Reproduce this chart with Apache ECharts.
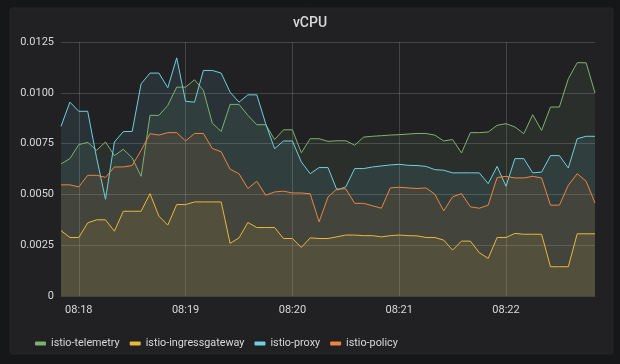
<!DOCTYPE html>
<html>
<head>
<meta charset="utf-8">
<script src="https://cdn.jsdelivr.net/npm/echarts@6/dist/echarts.min.js"></script>
<style>
html,body{margin:0;padding:0;background:#161719;}
#c{width:620px;height:364px;}
</style>
</head>
<body>
<div id="c"></div>
<script>
var times = ['08:17:50','08:17:55','08:18:00','08:18:05','08:18:10','08:18:15','08:18:20','08:18:25','08:18:30','08:18:35','08:18:40','08:18:45','08:18:50','08:18:55',
'08:19:00','08:19:05','08:19:10','08:19:15','08:19:20','08:19:25','08:19:30','08:19:35','08:19:40','08:19:45','08:19:50','08:19:55',
'08:20:00','08:20:05','08:20:10','08:20:15','08:20:20','08:20:25','08:20:30','08:20:35','08:20:40','08:20:45','08:20:50','08:20:55',
'08:21:00','08:21:05','08:21:10','08:21:15','08:21:20','08:21:25','08:21:30','08:21:35','08:21:40','08:21:45','08:21:50','08:21:55',
'08:22:00','08:22:05','08:22:10','08:22:15','08:22:20','08:22:25','08:22:30','08:22:35','08:22:40','08:22:45','08:22:50'];

var xTickLabels = ['08:18','08:19','08:20','08:21','08:22'];
var yTicks = [0, 0.0025, 0.005, 0.0075, 0.01, 0.0125];

var telemetry = [0.0065,0.00676,0.00745,0.00756,0.00717,0.00758,0.00691,0.00722,0.0068,0.00589,
0.00889,0.00889,0.00938,0.01028,0.01028,0.01064,0.01012,0.0085,0.0081,0.00943,
0.00943,0.00889,0.00843,0.00843,0.0077,0.00818,0.00818,0.00705,0.00774,0.00774,
0.00761,0.00764,0.00764,0.00742,0.00782,0.00786,0.00789,0.00792,0.00794,0.00797,
0.008,0.008,0.00792,0.00763,0.0077,0.00704,0.00804,0.00804,0.00807,0.0084,
0.00848,0.00832,0.00799,0.00892,0.00815,0.0093,0.0093,0.01069,0.01148,0.01148,0.00999];

var ingressgateway = [0.00322,0.00288,0.00288,0.0036,0.00375,0.00375,0.00319,0.00417,0.00417,0.00417,
0.00504,0.00393,0.00349,0.0045,0.0045,0.00463,0.00463,0.00463,0.00463,0.00259,
0.00286,0.00362,0.00337,0.00337,0.00337,0.00283,0.00283,0.00239,0.00286,0.00283,
0.00283,0.00291,0.003,0.003,0.00297,0.00297,0.00291,0.00297,0.003,0.00297,
0.00296,0.00288,0.00288,0.00275,0.00226,0.0027,0.0027,0.00213,0.00185,0.00288,
0.00288,0.00308,0.00304,0.00304,0.00304,0.00144,0.00144,0.00144,0.00306,0.00306,0.00306];

var proxy = [0.00835,0.00954,0.00909,0.00909,0.0068,0.00476,0.00758,0.00809,0.0081,0.01044,
0.01097,0.01097,0.01025,0.01172,0.00958,0.00954,0.0111,0.0111,0.01097,0.01003,
0.00954,0.0099,0.0099,0.00848,0.00725,0.00763,0.00763,0.0066,0.00602,0.00632,
0.00632,0.00522,0.00537,0.00627,0.00627,0.00635,0.0064,0.00645,0.00648,0.00643,
0.00642,0.00638,0.00622,0.00619,0.00606,0.00606,0.00606,0.00606,0.00553,0.00638,
0.0054,0.00676,0.00676,0.00606,0.0061,0.00691,0.00691,0.0063,0.00774,0.00786,0.00786];

var policy = [0.00547,0.00547,0.00537,0.00594,0.00594,0.00584,0.00635,0.00635,0.00642,0.00717,
0.00799,0.00792,0.00804,0.00804,0.00763,0.008,0.008,0.00726,0.0071,0.00624,
0.00602,0.00529,0.00565,0.00496,0.00512,0.00516,0.00507,0.00507,0.00503,0.00365,
0.00487,0.00527,0.00527,0.00456,0.00456,0.00444,0.00432,0.00532,0.00535,0.00532,
0.00529,0.00532,0.00501,0.00419,0.00488,0.00504,0.00439,0.00432,0.00447,0.00583,
0.00589,0.00581,0.00581,0.00589,0.00581,0.00447,0.00447,0.00545,0.00602,0.00565,0.00458];

var seriesNames = ['istio-telemetry','istio-ingressgateway','istio-proxy','istio-policy'];
var seriesColors = ['#7eb26d','#eab839','#6ed0e0','#ef843c'];
var seriesData = [telemetry, ingressgateway, proxy, policy];

var textColor = '#d8d9da';
var gridColor = 'rgba(255,255,255,0.16)';

function isMinuteTick(index, value) {
  var v = times[index];
  return v.slice(6) === '00' && xTickLabels.indexOf(v.slice(0,5)) >= 0;
}

var chart = echarts.init(document.getElementById('c'), null, {renderer:'canvas'});
chart.setOption({
  backgroundColor: '#161719',
  animation: false,
  textStyle: {fontFamily: 'Roboto'},
  graphic: [{
    type: 'rect', z: -10, silent: true,
    shape: {x: 10, y: 8, width: 603, height: 346, r: 2},
    style: {fill: '#212124', stroke: '#262629', lineWidth: 1}
  }],
  title: {
    text: 'vCPU', left: 'center', top: 11,
    textStyle: {color: textColor, fontSize: 14, fontWeight: 500, fontFamily: 'Roboto'}
  },
  legend: {
    left: 30, top: 333,
    icon: 'roundRect', itemWidth: 11, itemHeight: 4, itemGap: 10,
    textStyle: {color: textColor, fontSize: 10.8, fontFamily: 'Roboto', padding: [0,0,0,0]},
    data: seriesNames
  },
  grid: {left: 61, right: 25, top: 42, bottom: 68, containLabel: false},
  xAxis: {
    type: 'category', data: times, boundaryGap: false,
    axisLine: {show: false}, axisTick: {show: false},
    axisLabel: {
      interval: isMinuteTick, color: textColor, fontSize: 11, margin: 9,
      formatter: function (v) { return v.slice(0,5); }
    },
    splitLine: {show: true, interval: isMinuteTick, lineStyle: {color: gridColor, width: 1}}
  },
  yAxis: {
    type: 'value', min: yTicks[0], max: yTicks[yTicks.length-1], interval: yTicks[1],
    axisLine: {show: false}, axisTick: {show: false},
    axisLabel: {
      color: textColor, fontSize: 11, margin: 7,
      formatter: function (v) { return v === 0 ? '0' : v.toFixed(4); }
    },
    splitLine: {lineStyle: {color: gridColor, width: 1}}
  },
  series: seriesNames.map(function (name, k) {
    return {
      name: name, type: 'line', data: seriesData[k],
      showSymbol: false, symbol: 'none', smooth: false,
      color: seriesColors[k],
      lineStyle: {width: 1, color: seriesColors[k]},
      areaStyle: {color: seriesColors[k], opacity: 0.1},
      emphasis: {disabled: true}
    };
  })
});
</script>
</body>
</html>
